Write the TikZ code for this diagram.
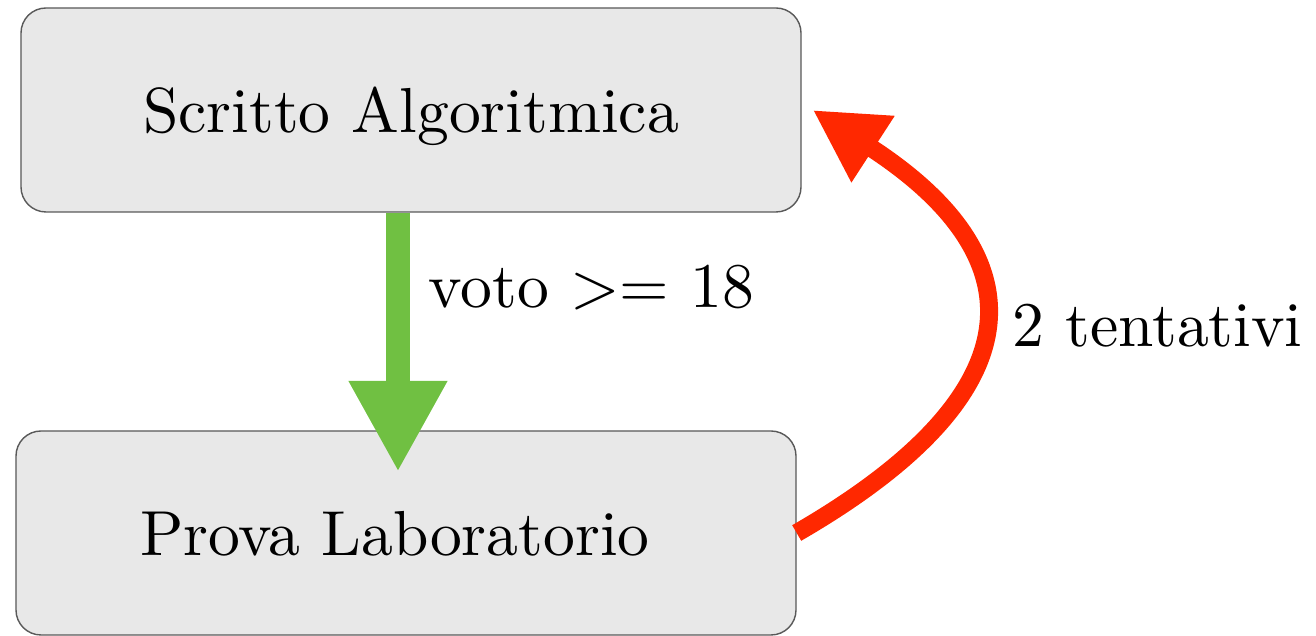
\documentclass[tikz,border=0pt]{standalone}
\usepackage{amsmath}
\usetikzlibrary{arrows.meta}

\definecolor{boxgray}{RGB}{232,232,232}
\definecolor{okgreen}{RGB}{112,192,66}
\definecolor{retryred}{RGB}{255,40,0}
\newcommand{\bigtxt}[1]{\scalebox{1.81}{#1}}

\begin{document}
\begin{tikzpicture}[
	exam/.style={draw=black!65, fill=boxgray, rounded corners=0.25cm, line width=0.4pt,
		minimum width=7.8cm, minimum height=2.04cm, text depth=0pt},
	lbl/.style={inner sep=0pt, anchor=base west},
	pass/.style={okgreen, line width=0.24cm, -{Triangle[width=0.92cm,length=0.91cm]}},
	retry/.style={retryred, line width=0.18cm, -{Triangle[width=0.74cm,length=0.72cm]}}
]
	\useasboundingbox (0,0) rectangle (13.16,6.36);
	\node[exam] (scritto) at (4.11,5.26){\bigtxt{Scritto Algoritmica}};
	\node[exam] (lab) at (4.06,1.03){\bigtxt{Prova Laboratorio}\hspace*{0.22cm}};
	\coordinate (tip) at (3.98,1.64);
	\draw[pass] (scritto.south -| tip) -- (tip);
	\node[lbl] (voto) at (4.28,3.28){\bigtxt{voto $>=$ 18}};
	\draw[retry] (lab.east) .. controls +(30:2.75) and +(-33:2.75) .. ([xshift=0.11cm]scritto.east);
	\node[lbl] (tent) at (10.12,2.89){\bigtxt{2 tentativi}};
\end{tikzpicture}
\end{document}
